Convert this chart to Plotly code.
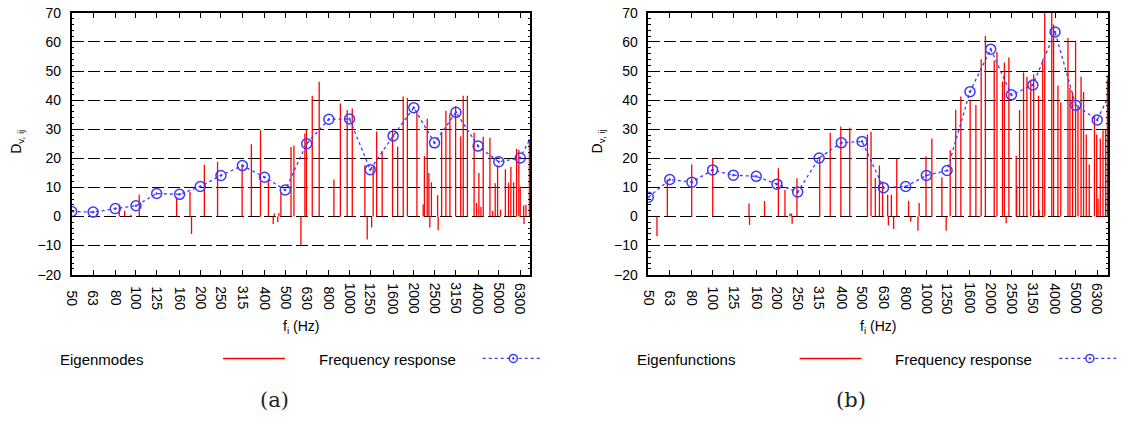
import numpy as np
import plotly.graph_objects as go

# One-third octave band centres (Hz) and their axis labels
bands = [50, 63, 80, 100, 125, 160, 200, 250, 315, 400, 500, 630, 800, 1000,
         1250, 1600, 2000, 2500, 3150, 4000, 5000, 6300, 8000]
tick_labels = ["50", "63", "80", "100", "125", "160", "200", "250", "315", "400",
               "500", "630", "800", "1000", "1250", "1600", "2000", "2500",
               "3150", "4000", "5000", "6300"]

# (a) frequency response per band
fr_a = [1.7, 1.5, 2.7, 3.7, 7.9, 7.6, 10.3, 14.1, 17.5, 13.5, 9.1, 25.0, 33.4,
        33.5, 16.1, 27.7, 37.4, 25.3, 35.8, 24.2, 18.8, 20.1, 35.0]
# (a) eigenmodes: natural frequency (Hz) and contribution
modes_a_freq = [65.5, 83.5, 88.5, 94.7, 103.6, 155, 179, 182, 209, 241, 314,
                347, 383, 417, 439, 444, 461, 467, 477, 532, 549, 592, 618, 628,
                669, 721, 845, 906, 975, 1030, 1180, 1210, 1269, 1290, 1340,
                1422, 1590, 1680, 1784, 1866, 2068, 2213, 2242, 2311, 2353,
                2378, 2418, 2585, 2600, 2699, 2827, 2951, 3139, 3317, 3407,
                3564, 3832, 3937, 4035, 4124, 4227, 4544, 4678, 4810, 4936,
                5098, 5368, 5556, 5696, 5865, 6058, 6208, 6298, 6540, 6560,
                6700, 6955]
modes_a_val = [1.0, 4.0, 2.0, 0.6, 7.5, 6.7, 8.5, -6.0, 17.8, 18.7, 17.8, 24.8,
               29.6, 12.5, -2.6, 1.0, -2.0, 1.2, 8.3, 23.9, 24.3, -10.1, 28.5,
               29.8, 41.5, 46.3, 12.7, 38.8, 36.6, 37.1, 17.6, -7.9, -3.8, 17.0,
               29.2, 22.5, 29.5, 24.0, 41.2, 40.7, 36.3, 4.1, 20.8, 33.6, 14.9,
               -3.8, 11.8, 7.3, -4.7, 29.0, 36.3, 35.5, 38.0, 27.6, 41.5, 41.5,
               28.8, 4.6, 14.9, 3.3, 27.4, 27.1, 1.9, 11.4, 17.6, 2.4, 16.2,
               11.6, 17.0, 11.8, 23.3, 22.9, 10.2, 3.8, -2.6, 4.0, 26.5]

# (b) frequency response per band
fr_b = [6.6, 12.7, 11.8, 16.0, 14.2, 13.8, 11.1, 8.4, 20.1, 25.3, 25.8, 9.9,
        10.3, 14.1, 15.8, 42.9, 57.5, 41.8, 45.2, 63.4, 38.2, 33.2, 49.0]
# (b) eigenfunctions: natural frequency (Hz) and contribution
modes_b_freq = [54.9, 61.4, 79.8, 100.1, 148, 148.8, 175, 203, 218, 230, 234,
                235.5, 248, 317, 355, 398, 438, 530, 551, 577, 603, 624, 659,
                664, 686, 703, 727, 826, 845, 913, 925, 996, 1061, 1182, 1238,
                1293, 1372, 1450, 1603, 1705, 1805, 1889, 2077, 2140, 2271,
                2318, 2363, 2433, 2633, 2645, 2729, 2849, 2955, 3078, 3178,
                3348, 3370, 3503, 3580, 3861, 3937, 4127, 4255, 4598, 4697,
                4831, 4991, 5121, 5295, 5439, 5598, 5783, 6117, 6268, 6360,
                6512, 6705, 6893, 7030, 7070]
modes_b_val = [-6.8, 12.7, 17.9, 20.0, 4.5, -2.9, 5.3, 16.6, 9.1, 1.0, 1.0,
               -2.5, 13.1, 20.2, 28.8, 30.9, 30.5, 28.2, 29.1, 13.2, 17.5, 12.0,
               7.5, -3.0, 7.5, -4.3, 19.9, 5.4, -1.7, -4.9, 4.6, 20.7, 26.8,
               13.5, -4.9, 22.8, 36.7, 41.2, 40.1, 38.3, 54.0, 62.0, 53.6, 56.5,
               46.4, 52.9, -2.3, 54.6, 20.9, 10.5, 36.6, 49.5, 48.0, 47.0, 48.8,
               41.5, 2.4, 54.0, 75.0, 74.0, 66.0, 45.0, 39.3, 61.3, 44.2, 42.7,
               60.0, 38.3, 48.0, 42.8, 28.2, 17.9, 34.5, 28.2, 6.2, 26.8, 29.6,
               30.0, 47.0, 48.5]

W, H = 1128, 429
RED = "#ff0000"
BLUE = "#3a3aff"
SANS = "Liberation Sans, Arial, sans-serif"
INK = "#000"


def px(x):
    return x / W


def py(y):
    return 1 - y / H


def impulses(freqs, vals):
    xs, ys = [], []
    for f, v in zip(freqs, vals):
        xs += [f, f, None]
        ys += [0, v, None]
    return xs, ys


fig = go.Figure()

panels = [
    dict(xa="x", ya="y", freq=modes_a_freq, val=modes_a_val, fr=fr_a,
         dom=[px(71.7), px(530)], xmax=7000, off=0.0,
         name="Eigenmodes", cap="(a)"),
    dict(xa="x2", ya="y2", freq=modes_b_freq, val=modes_b_val, fr=fr_b,
         dom=[px(648.3), px(1108.3)], xmax=7100, off=576.6,
         name="Eigenfunctions", cap="(b)"),
]

annotations = []
shapes = []

for i, p in enumerate(panels):
    xs, ys = impulses(p["freq"], p["val"])
    fig.add_trace(go.Scatter(x=xs, y=ys, mode="lines", xaxis=p["xa"], yaxis=p["ya"],
                             line=dict(color=RED, width=1.3), name=p["name"],
                             showlegend=False, hoverinfo="skip"))
    fig.add_trace(go.Scatter(x=bands, y=p["fr"], mode="lines+markers",
                             xaxis=p["xa"], yaxis=p["ya"],
                             line=dict(color=BLUE, width=1.3, dash="dot"),
                             marker=dict(symbol="circle-open-dot", size=10,
                                         color=BLUE, line=dict(width=1.5, color=BLUE)),
                             name="Frequency response", showlegend=False))

    sfx = "" if i == 0 else "2"
    xaxis = dict(type="log", domain=p["dom"], anchor="y" + sfx,
                 range=[np.log10(50), np.log10(p["xmax"])],
                 tickvals=bands[:-1], showticklabels=False,
                 ticks="inside", ticklen=5, tickwidth=1, tickcolor="black",
                 showline=True, linecolor="black", linewidth=1.5,
                 mirror="allticks", showgrid=False, zeroline=False)
    yaxis = dict(domain=[py(277), py(5)], anchor="x" + sfx, range=[-20, 70],
                 dtick=10, tick0=0, ticks="inside", ticklen=5, tickwidth=1,
                 tickcolor="black",
                 minor=dict(dtick=2, ticks="inside", ticklen=2.5, tickcolor="black",
                            showgrid=False),
                 showline=True, linecolor="black", linewidth=1.5,
                 mirror="allticks", showgrid=True, gridcolor="black",
                 gridwidth=1.2, griddash="12px,4px", zeroline=False,
                 tickfont=dict(family=SANS, size=14, color=INK),
                 ticklabelstandoff=6, ticklabeloverflow="allow")
    fig.layout["xaxis" + sfx] = xaxis
    fig.layout["yaxis" + sfx] = yaxis

    # rotated band labels, centred below the axis
    for f, lab in zip(bands[:-1], tick_labels):
        annotations.append(dict(x=np.log10(f), y=py(301.5), xref=p["xa"], yref="paper",
                                text=lab, textangle=90, showarrow=False,
                                xanchor="center", yanchor="middle",
                                font=dict(family=SANS, size=14, color=INK)))

    off = p["off"]
    # axis titles
    annotations.append(dict(x=px(301 + off), y=py(331), xref="paper", yref="paper",
                            text="f<sub>i</sub> (Hz)", showarrow=False,
                            xanchor="center", yanchor="middle",
                            font=dict(family=SANS, size=14, color=INK)))
    annotations.append(dict(x=px(17 + off + (4 if i else 0)), y=py(139), xref="paper",
                            yref="paper", text="D<sub>v, ij</sub>", textangle=-90,
                            showarrow=False, xanchor="center", yanchor="middle",
                            font=dict(family=SANS, size=14, color=INK)))
    # key below each panel
    annotations.append(dict(x=px(58 + off), y=py(365), xref="paper", yref="paper",
                            text=p["name"], showarrow=False, xanchor="left",
                            yanchor="middle",
                            font=dict(family=SANS, size=15, color=INK)))
    annotations.append(dict(x=px(316.7 + off), y=py(365), xref="paper", yref="paper",
                            text="Frequency response", showarrow=False,
                            xanchor="left", yanchor="middle",
                            font=dict(family=SANS, size=15, color=INK)))
    shapes.append(dict(type="line", xref="paper", yref="paper",
                       x0=px(223 + off), x1=px(285 + off), y0=py(364), y1=py(364),
                       line=dict(color=RED, width=1.5)))
    shapes.append(dict(type="line", xref="paper", yref="paper",
                       x0=px(482.7 + off), x1=px(542.7 + off), y0=py(364), y1=py(364),
                       line=dict(color=BLUE, width=1.3, dash="dot")))
    shapes.append(dict(type="circle", xref="paper", yref="paper",
                       xsizemode="pixel", ysizemode="pixel",
                       xanchor=px(513.3 + off), yanchor=py(364),
                       x0=-4, x1=4, y0=-4, y1=4,
                       line=dict(color=BLUE, width=1.5), fillcolor="white"))
    shapes.append(dict(type="circle", xref="paper", yref="paper",
                       xsizemode="pixel", ysizemode="pixel",
                       xanchor=px(513.3 + off), yanchor=py(364),
                       x0=-0.8, x1=0.8, y0=-0.8, y1=0.8,
                       line=dict(color=BLUE, width=1), fillcolor=BLUE))
    # sub-figure caption
    annotations.append(dict(x=px(274.5 + off), y=py(407.5), xref="paper", yref="paper",
                            text=p["cap"], showarrow=False, xanchor="center",
                            yanchor="middle",
                            font=dict(family="DejaVu Serif, serif", size=21,
                                      color="#222")))

fig.update_layout(width=W, height=H, margin=dict(l=0, r=0, t=0, b=0),
                  paper_bgcolor="white", plot_bgcolor="white",
                  showlegend=False, annotations=annotations, shapes=shapes)

fig.write_html("out.html")
